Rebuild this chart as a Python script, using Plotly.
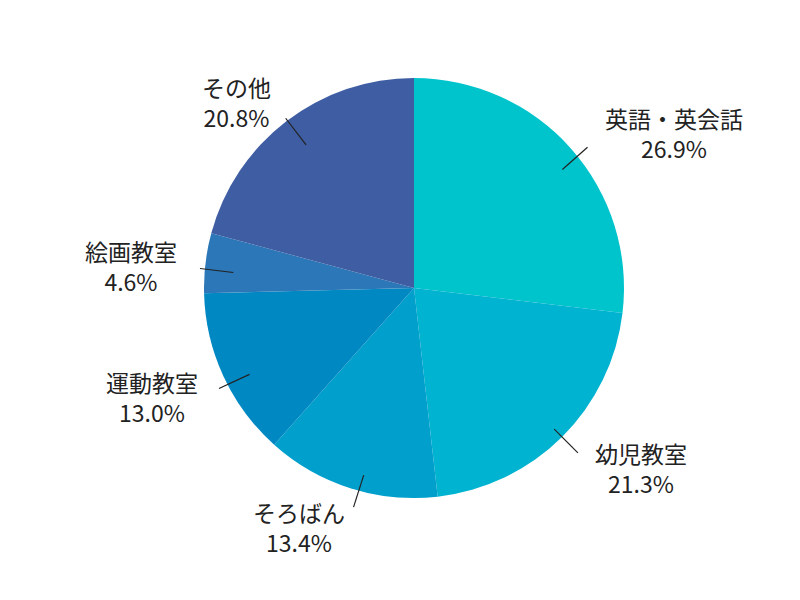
import math
import plotly.graph_objects as go

labels = ["英語・英会話", "幼児教室", "そろばん", "運動教室", "絵画教室", "その他"]
values = [26.9, 21.3, 13.4, 13.0, 4.6, 20.8]
colors = ["#00C4CC", "#00B3D0", "#009FCC", "#0088C3", "#2B77B7", "#3E5DA2"]

W, H = 800, 600
cx, cy, R = 413, 287, 210
# plotly places the pie a few px off from the nominal domain; compensate
ox, oy = 7, 7

fig = go.Figure(go.Pie(
    labels=labels, values=values, sort=False, direction="clockwise", rotation=0,
    marker=dict(colors=colors, line=dict(width=0)),
    textinfo="none", hoverinfo="label+percent",
    domain=dict(x=[(cx - ox - R) / W, (cx - ox + R) / W],
                y=[1 - (cy - oy + R) / H, 1 - (cy - oy - R) / H]),
))

total = sum(values)
cum = 0
for lab, v in zip(labels, values):
    mid = (cum + v / 2) / total * 2 * math.pi
    cum += v
    sx, sy = math.sin(mid), -math.cos(mid)
    x0, y0 = cx + sx * R * 0.9, cy + sy * R * 0.9
    x1, y1 = cx + sx * R * 1.06, cy + sy * R * 1.06
    fig.add_shape(type="line", xref="paper", yref="paper",
                  x0=x0 / W, y0=1 - y0 / H, x1=x1 / W, y1=1 - y1 / H,
                  line=dict(color="#222222", width=1.2))
    tx, ty = cx + sx * R * 1.16, cy + sy * R * 1.16
    if abs(sx) > 0.3:
        xa = "left" if sx > 0 else "right"
        ya = "middle"
    else:
        xa = "center"
        ya = "top" if sy > 0 else "bottom"
    fig.add_annotation(xref="paper", yref="paper", x=tx / W, y=1 - ty / H,
                       xanchor=xa, yanchor=ya,
                       text=f"{lab}<br>{v:.1f}%", showarrow=False,
                       font=dict(size=23, color="#222222", family="Noto Sans CJK JP"),
                       align="center")

fig.update_layout(width=W, height=H, margin=dict(l=0, r=0, t=0, b=0),
                  showlegend=False, paper_bgcolor="white")
fig.write_html("out.html")
